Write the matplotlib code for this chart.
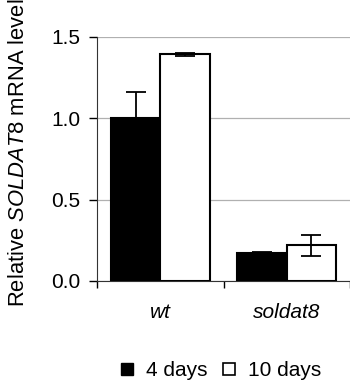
import matplotlib
matplotlib.use("Agg")
import matplotlib.pyplot as plt
from matplotlib.lines import Line2D
import numpy as np

# data
genotypes = ["wt", "soldat8"]
days = ["4 days", "10 days"]
mean_4d = [1.00, 0.17]
err_4d = [0.16, 0.01]
mean_10d = [1.39, 0.22]
err_10d = [0.01, 0.065]

plt.rcParams["font.family"] = "Liberation Sans"
plt.rcParams["mathtext.fontset"] = "custom"
plt.rcParams["mathtext.rm"] = "Liberation Sans"
plt.rcParams["mathtext.it"] = "Liberation Sans:italic"
fs = 15

fig = plt.figure(figsize=(3.5, 3.83), dpi=100)
ax = fig.add_axes([97 / 350, 1 - 281 / 383, (350 - 97) / 350, (281 - 36.5) / 383])

x = np.arange(len(genotypes))
w = 0.39
ax.bar(x - w / 2, mean_4d, w, color="black", edgecolor="black", linewidth=1.5, zorder=3)
ax.bar(x + w / 2, mean_10d, w, color="white", edgecolor="black", linewidth=1.5, zorder=3)
ax.errorbar(x - w / 2, mean_4d, yerr=err_4d, fmt="none", ecolor="black",
            elinewidth=1.3, capsize=7.5, capthick=1.3, zorder=4)
ax.errorbar(x + w / 2, mean_10d, yerr=err_10d, fmt="none", ecolor="black",
            elinewidth=1.3, capsize=7.5, capthick=1.3, zorder=4)

ax.set_ylim(0, 1.5)
ax.set_xlim(-0.49, 1.443)
ax.set_yticks([0, 0.5, 1.0, 1.5])
ax.set_yticklabels(["0.0", "0.5", "1.0", "1.5"], fontsize=fs)
ax.yaxis.grid(True, color="#b0b0b0", linewidth=0.9, zorder=0)
ax.set_axisbelow(True)

ax.set_xticks([-0.5, 0.5, 1.5])
ax.set_xticklabels([])
ax.set_xticks(x, minor=True)
ax.set_xticklabels(genotypes, minor=True, fontsize=fs, style="italic")
ax.tick_params(axis="x", which="minor", length=0, pad=16)
ax.tick_params(axis="x", which="major", length=5, width=1, direction="out")
ax.tick_params(axis="y", length=6, width=1, direction="out", pad=6)

for s in ["top", "right"]:
    ax.spines[s].set_visible(False)
ax.spines["left"].set_color("#333333")
ax.spines["bottom"].set_color("#333333")

fig.text(19 / 350, 1 - 153 / 383, r"Relative $\mathit{SOLDAT8}$ mRNA level",
         rotation=90, ha="center", va="center", fontsize=15.8)

handles = [Line2D([], [], ls="none", marker="s", markersize=8, markerfacecolor="black",
                  markeredgecolor="black", label=days[0]),
           Line2D([], [], ls="none", marker="s", markersize=8, markerfacecolor="white",
                  markeredgecolor="black", markeredgewidth=1.2, label=days[1])]
fig.legend(handles=handles, loc="center", bbox_to_anchor=(221 / 350, 1 - 371 / 383),
           ncol=2, frameon=False, fontsize=fs, handlelength=0.6,
           handletextpad=0.6, columnspacing=0.75, borderpad=0)

fig.savefig("out.png", dpi=100)
